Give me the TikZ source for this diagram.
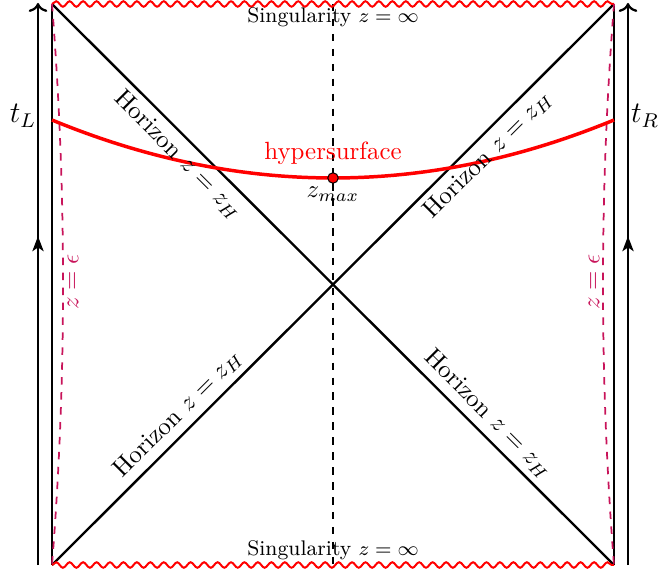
\documentclass[tikz,border=0pt]{standalone}
\usetikzlibrary{decorations.pathmorphing,decorations.markings,arrows.meta}
\definecolor{epscol}{RGB}{200,20,90}
\begin{document}
\begin{tikzpicture}[x=0.4016pt,y=-0.4016pt,
  bh/.style={line width=0.95pt},
  wavy/.style={red,line width=0.8pt,decorate,decoration={snake,amplitude=1.1pt,segment length=5.4pt}},
  epsline/.style={epscol,dashed,line width=0.7pt},
  sing/.style={font=\fontsize{8.5}{10}\selectfont},
  hlabel/.style={font=\normalsize},
  tarrow/.style={line width=0.9pt,->,postaction={decorate},
    decoration={markings,mark=at position 0.585 with {\arrow[line width=0.9pt]{Stealth[length=6pt,width=4.5pt,inset=1.5pt]}}}}]
\useasboundingbox (0,0) rectangle (660,574);
% corners
\coordinate (TL) at (52,4);
\coordinate (TR) at (614,4);
\coordinate (BL) at (52,565);
\coordinate (BR) at (614,565);
\coordinate (Ttop) at (333,4);
\coordinate (Tbot) at (333,565);
\coordinate (AL0) at (38,565);
\coordinate (AL1) at (38,3);
\coordinate (AR0) at (628,565);
\coordinate (AR1) at (628,3);
\coordinate (HL) at (52,120);
\coordinate (HR) at (614,120);
% center dashed line
\draw[dashed,line width=0.6pt] (Ttop) -- (Tbot);
% boundaries and horizons
\draw[bh] (TL) -- (BR);
\draw[bh] (TR) -- (BL);
\draw[bh] (TL) -- (BL);
\draw[bh] (TR) -- (BR);
% singularities
\draw[wavy] (TL) -- (TR);
\draw[wavy] (BL) -- (BR);
% cutoff surfaces
\draw[epsline] (TL) .. controls (66.7,191) and (66.7,378) .. (BL);
\draw[epsline] (TR) .. controls (599.3,191) and (599.3,378) .. (BR);
% time arrows
\draw[tarrow] (AL0) -- (AL1);
\draw[tarrow] (AR0) -- (AR1);
% hypersurface
\draw[red,line width=1.4pt] (HL) .. controls (239.3,197.3) and (426.7,197.3) .. (HR);
\node[circle,fill=red,draw=black,line width=0.4pt,inner sep=0pt,minimum size=4.2pt] (zm) at (333,178) {};
\node[red] (hs) at (333,153) {hypersurface};
\node (zmax) at (333,194) {$z_{max}$};
% labels
\node[sing] (s1) at (333,17) {Singularity $z=\infty$};
\node[sing] (s2) at (333,550) {Singularity $z=\infty$};
\node[font=\large] (tl) at (23,116) {$t_L$};
\node[font=\large] (tr) at (645,116) {$t_R$};
\node[epscol,rotate=90] (e1) at (73,282) {$z=\epsilon$};
\node[epscol,rotate=90] (e2) at (594,282) {$z=\epsilon$};
\node[hlabel,rotate=-45] (h1) at (178,155) {Horizon $z=z_H$};
\node[hlabel,rotate=45] (h2) at (488,155) {Horizon $z=z_H$};
\node[hlabel,rotate=45] (h3) at (178,414) {Horizon $z=z_H$};
\node[hlabel,rotate=-45] (h4) at (488,414) {Horizon $z=z_H$};
\end{tikzpicture}
\end{document}
